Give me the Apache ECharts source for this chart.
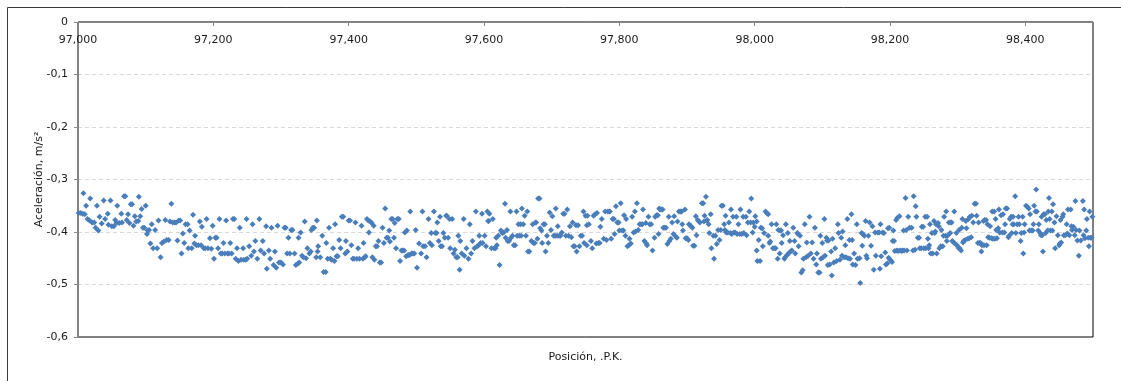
<!DOCTYPE html>
<html>
<head>
<meta charset="utf-8">
<script src="https://cdn.jsdelivr.net/npm/echarts@6/dist/echarts.min.js"></script>
<style>
html,body{margin:0;padding:0;background:#fff;}
#chart{width:1121px;height:381px;}
</style>
</head>
<body>
<div id="chart"></div>
<script>
// Axis ranges / ticks
const xRange = [97000, 98500];
const xTickStep = 200;
const yRange = [-0.6, 0];
const yTickStep = 0.1;
const xAxisTitle = 'Posición, .P.K.';
const yAxisTitle = 'Aceleración, m/s²';

// Measured points: [P.K. position, acceleration m/s²]
const measurements = [
[97001,-0.364],[97004,-0.364],[97007,-0.365],[97008,-0.326],[97010,-0.366],[97012,-0.350],[97014,-0.375],[97017,-0.378],[97018,-0.336],[97021,-0.382],[97024,-0.382],[97026,-0.392],[97028,-0.350],[97030,-0.397],[97032,-0.371],[97035,-0.384],[97038,-0.340],[97040,-0.375],[97044,-0.365],[97045,-0.386],[97048,-0.340],[97050,-0.389],[97053,-0.389],[97055,-0.377],[97057,-0.383],[97058,-0.350],[97061,-0.383],[97064,-0.365],[97065,-0.382],[97068,-0.332],[97070,-0.332],[97072,-0.377],[97074,-0.366],[97076,-0.383],[97078,-0.347],[97080,-0.347],[97082,-0.388],[97084,-0.370],[97086,-0.380],[97089,-0.379],[97090,-0.333],[97092,-0.370],[97094,-0.356],[97096,-0.392],[97098,-0.392],[97100,-0.350],[97102,-0.404],[97103,-0.397],[97105,-0.396],[97107,-0.422],[97109,-0.385],[97111,-0.431],[97114,-0.396],[97117,-0.431],[97119,-0.378],[97122,-0.448],[97124,-0.421],[97127,-0.418],[97129,-0.377],[97131,-0.415],[97134,-0.415],[97136,-0.380],[97138,-0.346],[97140,-0.382],[97143,-0.382],[97145,-0.382],[97147,-0.416],[97149,-0.378],[97151,-0.378],[97153,-0.441],[97155,-0.403],[97157,-0.421],[97159,-0.385],[97162,-0.385],[97163,-0.431],[97165,-0.397],[97168,-0.431],[97170,-0.367],[97172,-0.422],[97173,-0.407],[97175,-0.425],[97178,-0.425],[97180,-0.380],[97182,-0.425],[97183,-0.390],[97186,-0.431],[97188,-0.431],[97190,-0.375],[97192,-0.431],[97195,-0.412],[97197,-0.432],[97199,-0.388],[97201,-0.451],[97203,-0.411],[97205,-0.411],[97207,-0.431],[97209,-0.375],[97211,-0.441],[97213,-0.441],[97215,-0.421],[97217,-0.441],[97219,-0.378],[97221,-0.441],[97223,-0.441],[97225,-0.421],[97227,-0.441],[97229,-0.375],[97231,-0.375],[97233,-0.451],[97235,-0.431],[97237,-0.455],[97239,-0.392],[97241,-0.453],[97244,-0.431],[97245,-0.453],[97248,-0.453],[97249,-0.375],
[97250,-0.451],[97253,-0.427],[97256,-0.445],[97258,-0.385],[97260,-0.437],[97262,-0.417],[97265,-0.451],[97268,-0.375],[97270,-0.435],[97273,-0.417],[97275,-0.441],[97278,-0.389],[97279,-0.470],[97282,-0.435],[97284,-0.451],[97286,-0.392],[97289,-0.463],[97291,-0.437],[97293,-0.468],[97295,-0.388],[97297,-0.458],[97300,-0.458],[97303,-0.462],[97305,-0.392],[97307,-0.392],[97309,-0.441],[97311,-0.411],[97313,-0.441],[97315,-0.396],[97317,-0.396],[97320,-0.441],[97322,-0.463],[97325,-0.460],[97326,-0.411],[97327,-0.458],[97329,-0.401],[97331,-0.445],[97333,-0.448],[97335,-0.380],[97337,-0.450],[97339,-0.431],[97342,-0.441],[97344,-0.437],[97345,-0.396],[97347,-0.392],[97349,-0.392],[97352,-0.448],[97353,-0.378],[97354,-0.437],[97355,-0.427],[97358,-0.448],[97361,-0.407],[97363,-0.476],[97366,-0.476],[97367,-0.421],[97369,-0.451],[97371,-0.392],[97373,-0.451],[97375,-0.453],[97377,-0.431],[97379,-0.455],[97380,-0.385],[97382,-0.446],[97384,-0.446],[97386,-0.415],[97388,-0.431],[97390,-0.371],[97392,-0.371],[97395,-0.441],[97396,-0.417],[97398,-0.437],[97400,-0.378],[97402,-0.378],[97404,-0.425],[97406,-0.451],[97408,-0.451],[97410,-0.382],[97412,-0.451],[97414,-0.431],[97416,-0.451],[97419,-0.388],[97421,-0.451],[97422,-0.421],[97424,-0.448],[97425,-0.446],[97427,-0.375],[97429,-0.378],[97430,-0.401],[97432,-0.380],[97434,-0.383],[97435,-0.448],[97437,-0.388],[97438,-0.453],[97440,-0.427],[97442,-0.427],[97444,-0.417],[97446,-0.458],[97448,-0.458],[97450,-0.392],[97452,-0.421],[97454,-0.355],[97456,-0.411],[97458,-0.411],[97460,-0.397],[97461,-0.418],[97463,-0.375],[97465,-0.375],[97467,-0.411],[97468,-0.383],[97470,-0.431],[97472,-0.375],[97474,-0.375],[97476,-0.455],[97478,-0.435],[97480,-0.435],[97482,-0.435],[97483,-0.401],[97485,-0.446],[97486,-0.397],[97488,-0.444],[97490,-0.444],[97491,-0.361],[97493,-0.441],[97495,-0.441],[97497,-0.441],[97499,-0.396],[97501,-0.468],
[97504,-0.422],[97507,-0.441],[97509,-0.361],[97510,-0.427],[97513,-0.427],[97515,-0.448],[97518,-0.375],[97520,-0.421],[97522,-0.402],[97523,-0.425],[97526,-0.361],[97528,-0.402],[97530,-0.402],[97531,-0.382],[97533,-0.417],[97535,-0.371],[97536,-0.427],[97538,-0.427],[97540,-0.402],[97542,-0.411],[97544,-0.369],[97545,-0.369],[97547,-0.411],[97549,-0.375],[97550,-0.431],[97553,-0.375],[97555,-0.441],[97557,-0.434],[97559,-0.448],[97561,-0.448],[97562,-0.407],[97564,-0.472],[97565,-0.417],[97567,-0.441],[97570,-0.375],[97571,-0.445],[97574,-0.431],[97577,-0.451],[97579,-0.385],[97581,-0.441],[97583,-0.417],[97586,-0.431],[97588,-0.361],[97590,-0.427],[97592,-0.425],[97593,-0.407],[97595,-0.421],[97597,-0.365],[97598,-0.421],[97601,-0.407],[97603,-0.427],[97605,-0.361],[97606,-0.379],[97607,-0.379],[97608,-0.365],[97611,-0.431],[97613,-0.375],[97615,-0.431],[97617,-0.431],[97618,-0.411],[97619,-0.425],[97621,-0.407],[97623,-0.463],[97625,-0.397],[97627,-0.402],[97629,-0.401],[97631,-0.346],[97632,-0.411],[97634,-0.396],[97635,-0.417],[97637,-0.417],[97639,-0.361],[97640,-0.411],[97642,-0.407],[97644,-0.425],[97646,-0.425],[97648,-0.361],[97649,-0.407],[97651,-0.385],[97652,-0.407],[97654,-0.385],[97655,-0.407],[97656,-0.355],[97658,-0.385],[97660,-0.369],[97662,-0.407],[97664,-0.361],[97665,-0.437],[97667,-0.437],[97670,-0.417],[97672,-0.385],[97673,-0.421],[97675,-0.421],[97676,-0.382],[97677,-0.382],[97679,-0.413],[97680,-0.336],[97682,-0.336],[97683,-0.393],[97685,-0.397],[97686,-0.421],[97688,-0.385],[97690,-0.385],[97691,-0.437],[97693,-0.407],[97695,-0.421],[97697,-0.363],[97699,-0.396],[97701,-0.370],[97703,-0.407],[97705,-0.407],[97706,-0.355],[97708,-0.407],[97709,-0.389],[97711,-0.407],[97713,-0.407],[97715,-0.401],[97717,-0.365],[97719,-0.365],[97721,-0.407],[97723,-0.357],[97725,-0.407],[97727,-0.389],[97729,-0.410],[97731,-0.382],[97732,-0.427],[97734,-0.427],[97736,-0.387],[97737,-0.437],[97739,-0.387],[97741,-0.427],[97743,-0.407],[97745,-0.407],[97747,-0.361],[97748,-0.421],[97750,-0.369],[97752,-0.387],[97752,-0.425],
[97753,-0.369],[97755,-0.385],[97758,-0.417],[97760,-0.431],[97762,-0.369],[97764,-0.366],[97766,-0.422],[97767,-0.364],[97769,-0.421],[97771,-0.421],[97772,-0.390],[97774,-0.375],[97777,-0.413],[97779,-0.361],[97781,-0.415],[97783,-0.361],[97785,-0.361],[97786,-0.361],[97788,-0.413],[97790,-0.375],[97792,-0.375],[97793,-0.404],[97795,-0.351],[97797,-0.382],[97799,-0.382],[97800,-0.397],[97802,-0.345],[97804,-0.397],[97806,-0.397],[97807,-0.368],[97809,-0.407],[97810,-0.375],[97812,-0.427],[97814,-0.425],[97815,-0.413],[97817,-0.422],[97819,-0.371],[97821,-0.401],[97823,-0.361],[97824,-0.399],[97826,-0.345],[97828,-0.396],[97830,-0.385],[97832,-0.385],[97834,-0.385],[97835,-0.357],[97837,-0.417],[97839,-0.383],[97840,-0.422],[97841,-0.425],[97843,-0.371],[97845,-0.385],[97847,-0.385],[97849,-0.435],[97852,-0.411],[97853,-0.371],[97855,-0.368],[97857,-0.368],[97858,-0.404],[97859,-0.355],[97860,-0.357],[97862,-0.357],[97864,-0.357],[97865,-0.392],[97867,-0.392],[97869,-0.392],[97871,-0.423],[97873,-0.371],[97874,-0.417],[97876,-0.413],[97878,-0.382],[97880,-0.404],[97881,-0.370],[97883,-0.408],[97885,-0.411],[97886,-0.380],[97888,-0.361],[97890,-0.361],[97892,-0.361],[97893,-0.385],[97894,-0.397],[97897,-0.357],[97898,-0.412],[97900,-0.412],[97902,-0.415],[97903,-0.385],[97905,-0.388],[97906,-0.389],[97908,-0.392],[97909,-0.426],[97911,-0.426],[97913,-0.370],[97914,-0.406],[97916,-0.377],[97917,-0.379],[97919,-0.382],[97922,-0.345],[97924,-0.345],[97925,-0.380],[97926,-0.369],[97928,-0.333],[97929,-0.378],[97930,-0.377],[97932,-0.385],[97933,-0.402],[97935,-0.366],[97936,-0.431],[97939,-0.407],[97940,-0.451],[97942,-0.407],[97944,-0.423],[97946,-0.396],[97948,-0.415],[97950,-0.396],[97951,-0.350],[97953,-0.350],[97955,-0.385],[97956,-0.396],[97957,-0.369],[97958,-0.401],[97960,-0.401],[97962,-0.382],[97964,-0.402],[97965,-0.357],[97966,-0.404],[97968,-0.371],[97969,-0.401],[97971,-0.401],[97973,-0.371],[97974,-0.404],[97976,-0.385],[97978,-0.404],[97979,-0.357],[97981,-0.404],[97983,-0.371],[97984,-0.402],[97987,-0.371],[97988,-0.406],[97990,-0.382],[97992,-0.361],[97994,-0.382],[97995,-0.336],[97997,-0.401],[97998,-0.382],[98000,-0.390],[98001,-0.370],[98003,-0.435],[98004,-0.455],
[98003,-0.380],[98006,-0.415],[98008,-0.455],[98009,-0.392],[98011,-0.393],[98012,-0.427],[98014,-0.402],[98016,-0.361],[98018,-0.364],[98020,-0.366],[98020,-0.407],[98022,-0.421],[98023,-0.418],[98025,-0.385],[98027,-0.431],[98029,-0.431],[98031,-0.431],[98032,-0.385],[98034,-0.451],[98035,-0.396],[98037,-0.441],[98038,-0.397],[98039,-0.397],[98040,-0.421],[98042,-0.406],[98044,-0.451],[98045,-0.448],[98046,-0.385],[98048,-0.444],[98049,-0.402],[98050,-0.441],[98052,-0.417],[98053,-0.437],[98055,-0.435],[98057,-0.392],[98059,-0.417],[98060,-0.441],[98063,-0.402],[98064,-0.404],[98065,-0.427],[98067,-0.407],[98069,-0.477],[98071,-0.473],[98072,-0.451],[98074,-0.385],[98076,-0.448],[98077,-0.420],[98079,-0.445],[98081,-0.371],[98083,-0.441],[98085,-0.420],[98087,-0.451],[98089,-0.392],[98091,-0.462],[98092,-0.441],[98094,-0.477],[98096,-0.477],[98097,-0.407],[98098,-0.451],[98100,-0.421],[98101,-0.448],[98103,-0.375],[98104,-0.445],[98106,-0.411],[98107,-0.416],[98108,-0.463],[98109,-0.416],[98111,-0.462],[98113,-0.437],[98114,-0.483],[98115,-0.413],[98117,-0.458],[98119,-0.431],[98121,-0.455],[98123,-0.385],[98124,-0.402],[98126,-0.453],[98128,-0.411],[98129,-0.445],[98130,-0.399],[98132,-0.448],[98134,-0.425],[98135,-0.448],[98137,-0.375],[98138,-0.450],[98140,-0.415],[98141,-0.451],[98143,-0.366],[98144,-0.415],[98145,-0.462],[98147,-0.441],[98149,-0.463],[98151,-0.385],[98152,-0.451],[98155,-0.450],[98156,-0.497],[98158,-0.402],[98159,-0.426],[98160,-0.404],[98162,-0.407],[98164,-0.379],[98165,-0.445],[98166,-0.450],[98168,-0.407],[98170,-0.382],[98172,-0.426],[98174,-0.389],[98176,-0.472],[98178,-0.401],[98179,-0.445],[98182,-0.401],[98184,-0.401],[98185,-0.470],[98186,-0.385],[98187,-0.446],[98189,-0.401],[98191,-0.402],[98193,-0.439],[98194,-0.462],[98196,-0.460],[98197,-0.393],[98198,-0.449],[98199,-0.392],[98200,-0.453],[98201,-0.454],[98203,-0.457],[98204,-0.417],[98205,-0.397],[98206,-0.417],[98207,-0.436],[98209,-0.377],[98210,-0.435],[98211,-0.373],[98212,-0.436],[98214,-0.370],[98215,-0.435],[98217,-0.436],[98219,-0.435],[98220,-0.397],[98221,-0.435],[98223,-0.335],[98224,-0.396],[98225,-0.435],[98227,-0.371],[98229,-0.392],[98232,-0.392],[98234,-0.435],[98235,-0.332],[98237,-0.434],[98238,-0.351],[98239,-0.371],[98241,-0.411],[98243,-0.411],[98244,-0.431],[98246,-0.431],[98247,-0.390],[98249,-0.390],[98250,-0.431],[98252,-0.371],[98253,-0.431],
[98255,-0.371],[98256,-0.413],[98257,-0.431],[98258,-0.425],[98259,-0.385],[98260,-0.441],[98262,-0.402],[98263,-0.441],[98265,-0.379],[98266,-0.402],[98267,-0.399],[98268,-0.385],[98269,-0.441],[98271,-0.383],[98272,-0.389],[98273,-0.431],[98275,-0.427],[98276,-0.396],[98278,-0.427],[98279,-0.407],[98280,-0.371],[98282,-0.407],[98283,-0.361],[98284,-0.417],[98285,-0.407],[98287,-0.382],[98289,-0.402],[98290,-0.382],[98291,-0.382],[98292,-0.417],[98294,-0.420],[98295,-0.361],[98296,-0.422],[98298,-0.402],[98299,-0.425],[98301,-0.430],[98302,-0.396],[98303,-0.431],[98305,-0.435],[98306,-0.392],[98307,-0.375],[98308,-0.420],[98309,-0.417],[98311,-0.415],[98312,-0.379],[98313,-0.393],[98315,-0.413],[98316,-0.375],[98317,-0.412],[98318,-0.371],[98320,-0.410],[98321,-0.369],[98323,-0.382],[98325,-0.346],[98327,-0.346],[98328,-0.369],[98330,-0.421],[98331,-0.382],[98332,-0.421],[98334,-0.421],[98335,-0.437],[98336,-0.425],[98338,-0.379],[98339,-0.425],[98340,-0.377],[98342,-0.377],[98343,-0.425],[98344,-0.385],[98345,-0.410],[98347,-0.411],[98348,-0.389],[98350,-0.412],[98351,-0.361],[98352,-0.413],[98354,-0.361],[98355,-0.413],[98356,-0.375],[98357,-0.396],[98358,-0.412],[98360,-0.393],[98361,-0.357],[98362,-0.401],[98364,-0.368],[98366,-0.401],[98367,-0.366],[98369,-0.401],[98370,-0.385],[98371,-0.355],[98373,-0.355],[98375,-0.410],[98376,-0.407],[98377,-0.375],[98379,-0.371],[98380,-0.402],[98381,-0.385],[98382,-0.371],[98383,-0.385],[98385,-0.332],[98386,-0.402],[98388,-0.385],[98390,-0.371],[98391,-0.385],[98393,-0.417],[98394,-0.402],[98396,-0.371],[98397,-0.441],[98398,-0.401],[98399,-0.385],[98401,-0.350],[98403,-0.352],[98405,-0.355],[98406,-0.397],[98407,-0.366],[98409,-0.397],[98411,-0.397],[98412,-0.385],[98413,-0.350],[98415,-0.361],[98416,-0.319],[98417,-0.361],[98419,-0.397],[98420,-0.385],[98422,-0.402],[98423,-0.406],[98424,-0.371],[98425,-0.406],[98426,-0.437],[98427,-0.366],[98429,-0.366],[98430,-0.402],[98431,-0.377],[98433,-0.397],[98434,-0.361],[98435,-0.335],[98436,-0.375],[98437,-0.397],[98439,-0.361],[98440,-0.397],[98441,-0.347],[98443,-0.382],[98444,-0.431],[98446,-0.370],[98448,-0.406],[98450,-0.425],[98451,-0.422],[98452,-0.377],[98453,-0.420],[98455,-0.371],[98456,-0.366],[98457,-0.406],[98459,-0.406],[98461,-0.385],[98462,-0.403],[98463,-0.357],[98465,-0.406],[98467,-0.357],[98468,-0.389],[98469,-0.396],[98471,-0.390],[98473,-0.406],[98474,-0.341],[98475,-0.396],[98477,-0.416],[98479,-0.445],[98480,-0.397],[98482,-0.416],[98485,-0.341],[98486,-0.406],[98487,-0.357],[98488,-0.412],[98490,-0.397],[98491,-0.375],[98493,-0.411],[98494,-0.427],[98495,-0.361],[98496,-0.411],[98498,-0.411],[98499,-0.371]
];

const FONT = 'DejaVu Sans';
const TEXT = '#1a1a1a';

const chart = echarts.init(document.getElementById('chart'), null, {renderer: 'canvas'});
chart.setOption({
  animation: false,
  backgroundColor: '#ffffff',
  grid: {
    left: 78, top: 22, right: 28, bottom: 44,
    show: true, borderColor: '#000', borderWidth: 1, backgroundColor: 'transparent'
  },
  graphic: [
    { type: 'rect', silent: true, z: -10,
      shape: { x: 7.5, y: 7.5, width: 1200, height: 500 },
      style: { fill: 'none', stroke: '#3a3a3a', lineWidth: 1 } },
    { type: 'text', silent: true, x: 585.5, y: 357,
      style: { text: xAxisTitle, font: '11px "' + FONT + '"', fill: TEXT,
               align: 'center', verticalAlign: 'middle' } }
  ],
  xAxis: {
    type: 'value',
    min: xRange[0], max: xRange[1], interval: xTickStep,
    position: 'top',
    axisLine: { onZero: false, lineStyle: { color: '#868686', width: 1 } },
    axisTick: { show: true, inside: true, length: 4, lineStyle: { color: '#868686' } },
    axisLabel: {
      inside: true, margin: 13, fontFamily: FONT, fontSize: 11, color: TEXT,
      formatter: v => (v % xTickStep === 0 && v < xRange[1]) ? Math.floor(v / 1000) + ',' + String(v % 1000).padStart(3, '0') : ''
    },
    splitLine: { show: false }
  },
  yAxis: {
    type: 'value',
    min: yRange[0], max: yRange[1], interval: yTickStep,
    name: yAxisTitle, nameLocation: 'middle', nameGap: 33, nameMoveOverlap: false,
    nameTextStyle: { fontFamily: FONT, fontSize: 11, color: TEXT },
    axisLine: { show: true, lineStyle: { color: '#868686', width: 1 } },
    axisTick: { show: true, length: 4, lineStyle: { color: '#868686' } },
    axisLabel: {
      margin: 10, fontFamily: FONT, fontSize: 11, color: TEXT,
      formatter: v => Math.abs(v) < 1e-9 ? '0' : v.toFixed(1).replace('.', ',')
    },
    splitLine: { show: true, showMinLine: false, showMaxLine: false,
                 lineStyle: { color: '#d9d9d9', type: [4, 3], width: 1 } }
  },
  series: [{
    type: 'scatter',
    symbol: 'diamond',
    symbolSize: [6, 6],
    itemStyle: { color: '#4a7ebb', opacity: 1 },
    data: measurements,
    clip: true
  }]
});
</script>
</body>
</html>
